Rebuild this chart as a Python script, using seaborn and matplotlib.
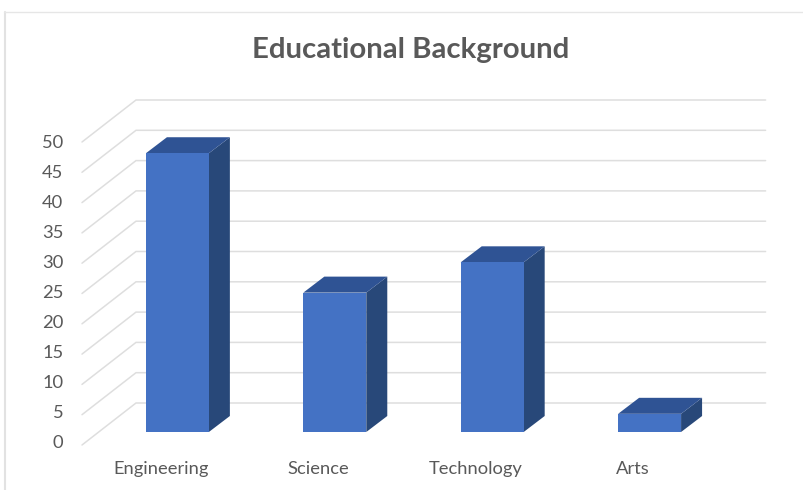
import matplotlib
matplotlib.use("Agg")
import matplotlib.pyplot as plt
from matplotlib.lines import Line2D
import pandas as pd
import seaborn as sns

categories = ["Engineering", "Science", "Technology", "Arts"]
values = [46, 23, 28, 3]
y_ticks = [0, 5, 10, 15, 20, 25, 30, 35, 40, 45, 50]
title = "Educational Background"

W, H = 804, 490
FRONT, SIDE, TOP = "#4472C4", "#284879", "#2F5394"
GRID, TEXT = "#DEDEDE", "#595959"

sns.set_theme(style="white")
plt.rcParams["font.family"] = ["Lato", "DejaVu Sans"]

fig = plt.figure(figsize=(W / 100, H / 100), dpi=100, facecolor="white")


def rect(x0, x1, y_bottom, y_top):
    return [x0 / W, 1 - y_bottom / H, (x1 - x0) / W, (y_bottom - y_top) / H]


# Main axes: the plane of the bars' front faces
ax = fig.add_axes(rect(98.7, 728.3, 432, 129), facecolor="none", zorder=2)
df = pd.DataFrame({"category": categories, "value": values})
sns.barplot(data=df, x="category", y="value", color=FRONT, saturation=1,
            width=0.4, ax=ax, zorder=5, linewidth=0, edgecolor="none")
ax.set_xlim(-0.5, 3.5)
ax.set_ylim(0, 50)
ax.set_xticks([])
ax.set_yticks([])
ax.set_xlabel("")
ax.set_ylabel("")
sns.despine(ax=ax, left=True, bottom=True)

px_x = 629.6 / 4     # pixels per category
px_y = 303 / 50      # pixels per unit
bar_dx, bar_dy = 21 / px_x, 16 / px_y
wall_dx, wall_dy = 37.3 / px_x, 29 / px_y      # bar front -> back wall
floor_dx, floor_dy = 16.7 / px_x, 13 / px_y    # bar front -> chart front edge

# Gridlines: along the back wall and the side wall
for v in y_ticks:
    ax.plot([-0.5 - floor_dx, -0.5 + wall_dx, 3.5 + wall_dx],
            [v - floor_dy, v + wall_dy, v + wall_dy],
            color=GRID, lw=1.1, clip_on=False, zorder=1, solid_joinstyle="miter")

# Side and top faces of each bar
half = 0.2
for i, v in enumerate(values):
    l, r = i - half, i + half
    ax.fill([r, r + bar_dx, r + bar_dx, r], [0, bar_dy, v + bar_dy, v],
            color=SIDE, lw=0, clip_on=False, zorder=4)
    ax.fill([l, r, r + bar_dx, l + bar_dx], [v, v, v + bar_dy, v + bar_dy],
            color=TOP, lw=0, clip_on=False, zorder=4)

# Label axes: the front edge of the chart carries the tick labels
lab = fig.add_axes(rect(82, 711.6, 441.7, 142), facecolor="none", zorder=3)
lab.set_xlim(-0.5, 3.5)
lab.set_ylim(0, 50)
lab.set_xticks(range(len(categories)), categories)
lab.set_yticks(y_ticks, [str(v) for v in y_ticks])
lab.tick_params(axis="both", length=0, colors=TEXT, labelsize=13.2)
lab.tick_params(axis="y", pad=13.5)
lab.tick_params(axis="x", pad=14.2)
for s in lab.spines.values():
    s.set_visible(False)

fig.text(410.5 / W, 1 - 50 / H, title, ha="center", va="center",
         fontsize=21.2, fontweight="bold", color=TEXT)

# Chart frame
fig.add_artist(Line2D([5 / W, 5 / W], [1 - 12 / H, 0], color="#E2E2E2", lw=1.5))
fig.add_artist(Line2D([4 / W, 1], [1 - 12.5 / H, 1 - 12.5 / H], color="#E6E6E6", lw=1.0))

fig.savefig("out.png", dpi=100, facecolor="white")
